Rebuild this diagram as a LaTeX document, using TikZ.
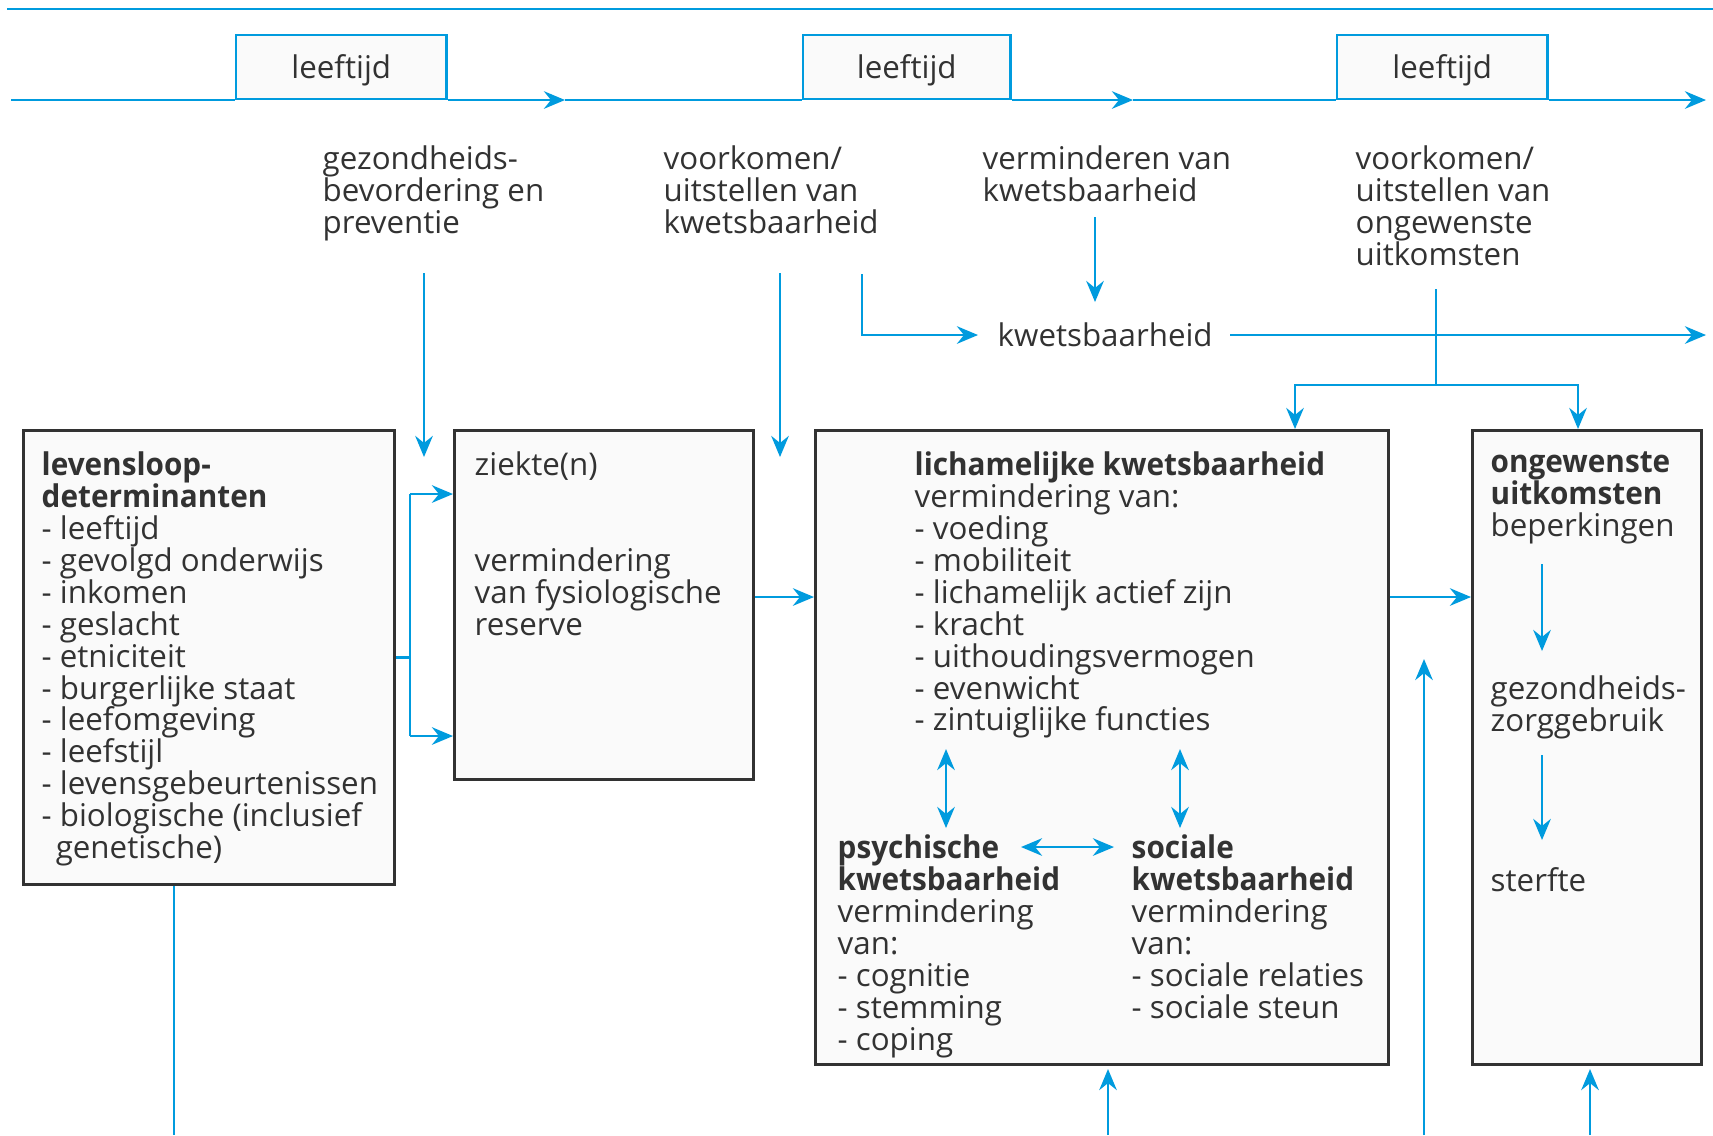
\documentclass[tikz,border=0pt]{standalone}
\usepackage{fontspec}
\setmainfont{Open Sans}[BoldFeatures={FakeStretch=0.95}]
\usetikzlibrary{arrows.meta}
\definecolor{rivmblue}{RGB}{0,155,222}
\definecolor{boxgray}{RGB}{250,250,250}
\definecolor{inkgray}{RGB}{50,50,50}
\newcommand{\diagfont}{\fontsize{8.9}{9.08}\selectfont}

\begin{document}
\begin{tikzpicture}[x=0.01cm,y=-0.01cm,
		box/.style={draw=inkgray,line width=0.85pt,fill=boxgray,anchor=north west,inner sep=0pt},
		agebox/.style={draw=rivmblue,line width=0.7pt,fill=boxgray,anchor=south west,minimum height=0.64cm,inner sep=0pt,text depth=0pt,text=inkgray,font=\diagfont},
		txt/.style={anchor=north west,inner sep=0pt,align=left,text=inkgray,font=\diagfont},
		link/.style={rivmblue,line width=0.7pt},
		flow/.style={link,-{Stealth[length=6pt,width=5pt,inset=2pt]}},
		twoway/.style={link,{Stealth[length=6pt,width=5pt,inset=2pt]}-{Stealth[length=6pt,width=5pt,inset=2pt]}}]
		\useasboundingbox (0,0) rectangle (1713,1135);
		\draw[link] (7,9) -- (1713,9);

		\node[agebox,minimum width=2.10cm] (L1) at (235,100) {leeftijd};
		\node[agebox,minimum width=2.07cm] (L2) at (802,100) {leeftijd};
		\node[agebox,minimum width=2.10cm] (L3) at (1336,100) {leeftijd};
		\coordinate (T0) at (11,100);
		\coordinate (M1) at (565,100);
		\coordinate (M2) at (1133,100);
		\coordinate (T1) at (1706,100);
		\draw[link] (T0) -- (L1.south west);
		\draw[flow] (L1.south east) -- (M1);
		\draw[link] (M1) -- (L2.south west);
		\draw[flow] (L2.south east) -- (M2);
		\draw[link] (M2) -- (L3.south west);
		\draw[flow] (L3.south east) -- (T1);

		\node[txt] (gez) at (322,145) {gezondheids-\\bevordering en\\preventie};
		\node[txt] (voork) at (663,145) {voorkomen/\\uitstellen van\\kwetsbaarheid};
		\node[txt] (verm) at (982,145) {verminderen van\\kwetsbaarheid};
		\node[txt] (uitst) at (1355,145) {voorkomen/\\uitstellen van\\ongewenste\\uitkomsten};
		\node[txt] (kw) at (997,322) {kwetsbaarheid};

		\node[box,minimum width=3.71cm,minimum height=4.54cm] (lev) at (22,429) {};
		\node[box,minimum width=2.99cm,minimum height=3.49cm] (ziek) at (453,429) {};
		\node[box,minimum width=5.73cm,minimum height=6.34cm] (lich) at (814,429) {};
		\node[box,minimum width=2.29cm,minimum height=6.34cm] (uitk) at (1471,429) {};

		\node[txt] (levtxt) at (41,451) {\textbf{levensloop-}\\\textbf{determinanten}\\- leeftijd\\- gevolgd onderwijs\\- inkomen\\- geslacht\\- etniciteit\\- burgerlijke staat\\- leefomgeving\\- leefstijl\\- levensgebeurtenissen\\- biologische (inclusief\\\hspace*{4pt}genetische)};
		\node[txt] (ziektxt) at (474,451) {ziekte(n)\\[2\baselineskip]vermindering\\van fysiologische\\reserve};
		\node[txt] (lichtxt) at (914,451) {\textbf{lichamelijke kwetsbaarheid}\\vermindering van:\\- voeding\\- mobiliteit\\- lichamelijk actief zijn\\- kracht\\- uithoudingsvermogen\\- evenwicht\\- zintuiglijke functies};
		\node[txt] (psych) at (837,834) {\textbf{psychische}\\\textbf{kwetsbaarheid}\\vermindering\\van:\\- cognitie\\- stemming\\- coping};
		\node[txt] (soc) at (1131,834) {\textbf{sociale}\\\textbf{kwetsbaarheid}\\vermindering\\van:\\- sociale relaties\\- sociale steun};
		\node[txt] (beperk) at (1490,451) {\textbf{ongewenste}\\\textbf{uitkomsten}\\beperkingen};
		\node[txt] (zorg) at (1490,675) {gezondheids-\\zorggebruik};
		\node[txt] (sterf) at (1490,867) {sterfte};

		\coordinate (g1) at (424,273);
		\coordinate (g2) at (424,457);
		\coordinate (v1) at (780,273);
		\coordinate (v2) at (780,457);
		\coordinate (e1) at (862,274);
		\coordinate (e2) at (978,335);
		\coordinate (m1) at (1095,217);
		\coordinate (m2) at (1095,302);
		\coordinate (k1) at (1230,335);
		\coordinate (k2) at (1706,335);
		\draw[flow] (g1) -- (g2);
		\draw[flow] (v1) -- (v2);
		\draw[flow] (e1) |- (e2);
		\draw[flow] (m1) -- (m2);
		\draw[flow] (k1) -- (k2);

		\coordinate (b0) at (1436,289);
		\coordinate (b1) at (1436,385);
		\coordinate (b2) at (1295,0);
		\coordinate (b3) at (1578,0);
		\draw[link] (b0) -- (b1);
		\draw[flow] (b1) -| (b2 |- lich.north);
		\draw[flow] (b1) -| (b3 |- uitk.north);

		\coordinate (s1) at (410,494);
		\coordinate (s2) at (410,736);
		\draw[link] (lev.east) -- (lev.east -| s1);
		\draw[link] (s1) -- (s2);
		\draw[flow] (s1) -- (s1 -| ziek.west);
		\draw[flow] (s2) -- (s2 -| ziek.west);

		\coordinate (r) at (0,597);
		\draw[flow] (r -| ziek.east) -- (r -| lich.west);
		\draw[flow] (r -| lich.east) -- (r -| uitk.west);

		\coordinate (p1) at (946,749);
		\coordinate (p2) at (946,828);
		\coordinate (q1) at (1180,749);
		\coordinate (q2) at (1180,828);
		\coordinate (h1) at (1021,847);
		\coordinate (h2) at (1114,847);
		\draw[twoway] (p1) -- (p2);
		\draw[twoway] (q1) -- (q2);
		\draw[twoway] (h1) -- (h2);

		\coordinate (o1) at (1542,564);
		\coordinate (o2) at (1542,651);
		\coordinate (o3) at (1542,755);
		\coordinate (o4) at (1542,840);
		\draw[flow] (o1) -- (o2);
		\draw[flow] (o3) -- (o4);

		\coordinate (d1) at (174,1135);
		\coordinate (u1) at (1108,1135);
		\coordinate (u2) at (1108,1069);
		\coordinate (u3) at (1424,1135);
		\coordinate (u4) at (1424,659);
		\coordinate (u5) at (1590,1135);
		\coordinate (u6) at (1590,1069);
		\draw[link] (lev.south -| d1) -- (d1);
		\draw[flow] (u1) -- (u2);
		\draw[flow] (u3) -- (u4);
		\draw[flow] (u5) -- (u6);
	\end{tikzpicture}
\end{document}
